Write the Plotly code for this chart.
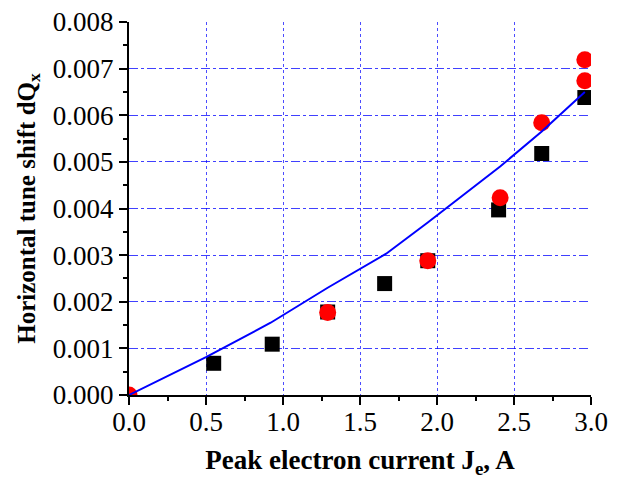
import plotly.graph_objects as go

# Black squares (measured)
sq_x = [0.55, 0.93, 1.29, 1.66, 1.94, 2.40, 2.68, 2.96]
sq_y = [0.00068, 0.00109, 0.00178, 0.00239, 0.00288, 0.00397, 0.00518, 0.00638]

# Red circles (measured)
ci_x = [0.0, 1.29, 1.94, 2.41, 2.68, 2.96, 2.96]
ci_y = [0.0, 0.00177, 0.00288, 0.00423, 0.00584, 0.00674, 0.00719]

# Blue fitted curve
fit_x = [0.0, 0.5, 0.92, 1.29, 1.67, 1.94, 2.41, 2.68, 2.96]
fit_y = [0.0, 0.00081, 0.00155, 0.0023, 0.00303, 0.0037, 0.0049, 0.00565, 0.0065]

x_ticks = [0.0, 0.5, 1.0, 1.5, 2.0, 2.5, 3.0]
y_ticks = [0.000, 0.001, 0.002, 0.003, 0.004, 0.005, 0.006, 0.007, 0.008]

fig = go.Figure()
fig.add_trace(go.Scatter(x=sq_x, y=sq_y, mode="markers",
                         marker=dict(symbol="square", size=15, color="black"),
                         showlegend=False))
fig.add_trace(go.Scatter(x=ci_x, y=ci_y, mode="markers",
                         marker=dict(symbol="circle", size=17, color="#ff0000"),
                         showlegend=False))
fig.add_trace(go.Scatter(x=fit_x, y=fit_y, mode="lines",
                         line=dict(color="#0000ff", width=2),
                         showlegend=False))

font_family = "Liberation Serif"
fig.update_layout(
    width=613, height=475,
    margin=dict(l=121, r=30, t=14, b=88),
    paper_bgcolor="white", plot_bgcolor="white",
    font=dict(family=font_family, color="black", size=27),
)
fig.update_xaxes(
    range=[0, 3.0], tickvals=x_ticks, tickformat=".1f",
    showline=True, linecolor="black", linewidth=2,
    ticks="outside", ticklen=8, tickwidth=2, tickcolor="black",
    minor=dict(dtick=0.25, ticks="outside", ticklen=4, tickwidth=2, tickcolor="black", showgrid=False),
    showgrid=True, gridcolor="rgba(0,0,255,0.7)", gridwidth=1, griddash="dot",
    zeroline=False, automargin=False, ticklabeloverflow="allow",
    ticklabelstandoff=-6,
    tickfont=dict(size=27, family=font_family),
    title=dict(text="<b>Peak electron current J<sub>e</sub>, A</b>",
               font=dict(size=27, family=font_family), standoff=14),
)
fig.update_yaxes(
    range=[0, 0.008], tickvals=y_ticks, tickformat=".3f",
    showline=True, linecolor="black", linewidth=2,
    ticks="outside", ticklen=8, tickwidth=2, tickcolor="black",
    minor=dict(dtick=0.0005, ticks="outside", ticklen=4, tickwidth=2, tickcolor="black", showgrid=False),
    showgrid=True, gridcolor="rgba(0,0,255,0.75)", gridwidth=1, griddash="dashdot",
    zeroline=False, automargin=False, ticklabeloverflow="allow",
    tickfont=dict(size=27, family=font_family),
    title=dict(text="<b>Horizontal tune shift dQ<sub>x</sub></b>",
               font=dict(size=25, family=font_family), standoff=10),
)

fig.write_html("out.html")
